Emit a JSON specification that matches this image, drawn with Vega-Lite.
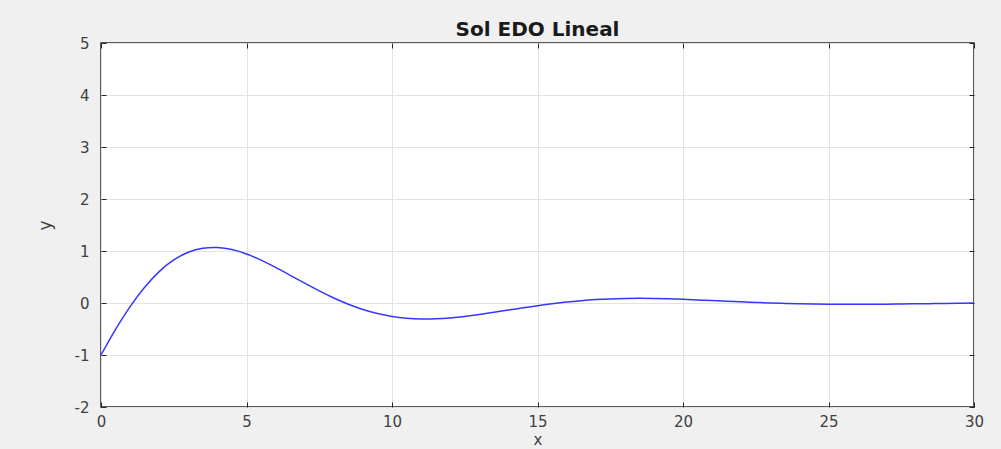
{
  "$schema": "https://vega.github.io/schema/vega-lite/v6.json",
  "autosize": {"type": "none"},
  "width": 873,
  "height": 364,
  "padding": {"left": 101, "top": 43, "right": 27, "bottom": 42},
  "background": "#f0f0f0",
  "view": {"fill": "white", "stroke": "#262626", "strokeWidth": 1.5},
  "title": {"text": "Sol EDO Lineal", "fontSize": 20, "fontWeight": "bold", "font": "DejaVu Sans", "color": "#1a1a1a", "offset": -4, "anchor": "middle"},
  "config": {
    "axis": {"labelFont": "DejaVu Sans", "titleFont": "DejaVu Sans", "labelFontSize": 15, "labelColor": "#404040", "titleColor": "#404040", "titleFontSize": 17, "titleFontWeight": "normal", "gridColor": "#e3e3e3", "gridWidth": 1, "domain": false, "tickColor": "#262626", "tickSize": -5}
  },
  "data": {"values": [
    {"x": 0, "y": -1}, {"x": 0.5, "y": -0.509}, {"x": 1, "y": -0.07}, {"x": 1.5, "y": 0.303},
    {"x": 2, "y": 0.604}, {"x": 2.5, "y": 0.827}, {"x": 3, "y": 0.976}, {"x": 3.5, "y": 1.053},
    {"x": 4, "y": 1.067}, {"x": 4.5, "y": 1.027}, {"x": 5, "y": 0.942}, {"x": 5.5, "y": 0.825},
    {"x": 6, "y": 0.685}, {"x": 6.5, "y": 0.533}, {"x": 7, "y": 0.381}, {"x": 7.5, "y": 0.232},
    {"x": 8, "y": 0.096}, {"x": 8.5, "y": -0.023}, {"x": 9, "y": -0.124}, {"x": 9.5, "y": -0.202},
    {"x": 10, "y": -0.258}, {"x": 10.5, "y": -0.293}, {"x": 11, "y": -0.308}, {"x": 11.5, "y": -0.305},
    {"x": 12, "y": -0.288}, {"x": 12.5, "y": -0.26}, {"x": 13, "y": -0.223}, {"x": 13.5, "y": -0.18},
    {"x": 14, "y": -0.135}, {"x": 14.5, "y": -0.093}, {"x": 15, "y": -0.051}, {"x": 15.5, "y": -0.014},
    {"x": 16, "y": 0.019}, {"x": 16.5, "y": 0.045}, {"x": 17, "y": 0.065}, {"x": 17.5, "y": 0.079},
    {"x": 18, "y": 0.087}, {"x": 18.5, "y": 0.089}, {"x": 19, "y": 0.087}, {"x": 19.5, "y": 0.08},
    {"x": 20, "y": 0.071}, {"x": 20.5, "y": 0.06}, {"x": 21, "y": 0.047}, {"x": 21.5, "y": 0.034},
    {"x": 22, "y": 0.022}, {"x": 22.5, "y": 0.011}, {"x": 23, "y": 0.0003}, {"x": 23.5, "y": -0.008},
    {"x": 24, "y": -0.0157}, {"x": 24.5, "y": -0.021}, {"x": 25, "y": -0.024}, {"x": 25.5, "y": -0.0255},
    {"x": 26, "y": -0.0256}, {"x": 26.5, "y": -0.024}, {"x": 27, "y": -0.022}, {"x": 27.5, "y": -0.019},
    {"x": 28, "y": -0.016}, {"x": 28.5, "y": -0.0125}, {"x": 29, "y": -0.0086}, {"x": 29.5, "y": -0.005},
    {"x": 30, "y": -0.0018}
  ]},
  "layer": [
    {
      "mark": {"type": "line", "color": "#3636ff", "strokeWidth": 1.5, "interpolate": "natural", "clip": true},
      "encoding": {
        "x": {"field": "x", "type": "quantitative", "scale": {"domain": [0, 30], "nice": false},
              "axis": {"title": "x", "values": [0, 5, 10, 15, 20, 25, 30], "labelExpr": "datum.value", "labelPadding": 12, "titlePadding": 3, "titleFontSize": 15, "labelFlush": false}},
        "y": {"field": "y", "type": "quantitative", "scale": {"domain": [-2, 5], "nice": false},
              "axis": {"title": "y", "values": [-2, -1, 0, 1, 2, 3, 4, 5], "labelExpr": "datum.value", "labelPadding": 17, "titlePadding": 20, "labelFlush": false}}
      }
    },
    {
      "mark": {"type": "line", "opacity": 0},
      "encoding": {
        "x": {"field": "x", "type": "quantitative", "scale": {"domain": [0, 30], "nice": false},
              "axis": {"orient": "top", "title": null, "labels": false, "grid": false, "values": [0, 5, 10, 15, 20, 25, 30]}},
        "y": {"field": "y", "type": "quantitative", "scale": {"domain": [-2, 5], "nice": false},
              "axis": {"orient": "right", "title": null, "labels": false, "grid": false, "values": [-2, -1, 0, 1, 2, 3, 4, 5]}}
      }
    }
  ],
  "resolve": {"scale": {"x": "independent", "y": "independent"}, "axis": {"x": "independent", "y": "independent"}}
}
